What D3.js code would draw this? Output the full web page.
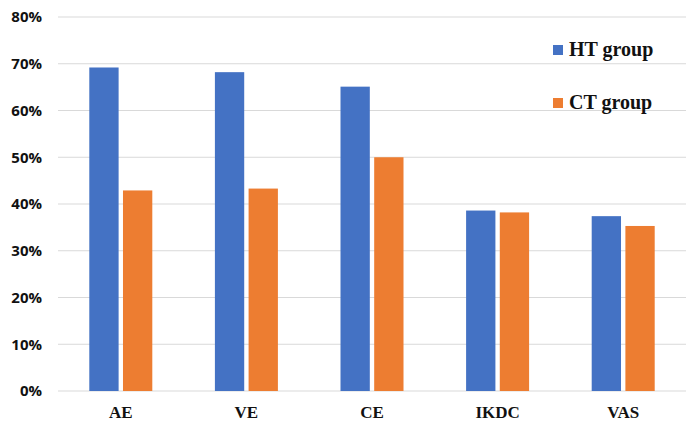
<!DOCTYPE html>
<html><head><meta charset="utf-8">
<script src="https://cdn.jsdelivr.net/npm/d3@7"></script>
<style>body{margin:0;background:#fff}svg{display:block}</style>
</head><body>
<script>
const categories = ["AE","VE","CE","IKDC","VAS"];
const seriesNames = ["HT group","CT group"];
const htValues = [69.2, 68.2, 65.1, 38.6, 37.4];
const ctValues = [42.9, 43.3, 50.0, 38.2, 35.3];
const yTicks = [0,10,20,30,40,50,60,70,80];
const colors = ["#4472C4","#ED7D31"];

const W=691,H=427;
const svg=d3.select("body").append("svg").attr("width",W).attr("height",H);
const x=d3.scaleBand().domain(categories).range([58,686]);
const y=d3.scaleLinear().domain([0,80]).range([391,17]);
const sub=d3.scaleBand().domain(seriesNames).range([0,63]).paddingInner(0.13);

// gridlines
svg.append("g").selectAll("line").data(yTicks).join("line")
  .attr("x1",58).attr("x2",686).attr("y1",d=>y(d)).attr("y2",d=>y(d))
  .attr("stroke","#d9d9d9").attr("stroke-width",1);

// y axis labels
const yAxis=d3.axisLeft(y).tickValues(yTicks).tickFormat(d=>d+"%").tickSize(0).tickPadding(0);
const ga=svg.append("g").attr("transform","translate(42,0)").call(yAxis);
ga.select(".domain").remove();
ga.selectAll("text").attr("font-family","'Open Sans',sans-serif").attr("font-weight","bold")
  .attr("font-size",15).attr("fill","#111");

// bars
const data=categories.map((c,i)=>({c,vals:[{s:seriesNames[0],v:htValues[i]},{s:seriesNames[1],v:ctValues[i]}]}));
const g=svg.append("g").selectAll("g").data(data).join("g")
  .attr("transform",d=>`translate(${x(d.c)+x.bandwidth()/2-31.5},0)`);
g.selectAll("rect").data(d=>d.vals).join("rect")
  .attr("x",d=>sub(d.s)).attr("width",sub.bandwidth())
  .attr("y",d=>y(d.v)).attr("height",d=>y(0)-y(d.v))
  .attr("fill",(d,i)=>colors[i]);

// x labels
const xAxis=d3.axisBottom(x).tickSize(0).tickPadding(0);
const gx=svg.append("g").attr("transform","translate(0,418)").call(xAxis);
gx.select(".domain").remove();
gx.selectAll("text").attr("font-family","'Liberation Serif',serif").attr("font-weight","bold")
  .attr("font-size",17).attr("fill","#111").attr("dy","0");

// legend
const lg=svg.append("g").selectAll("g").data(seriesNames).join("g")
  .attr("transform",(d,i)=>`translate(553,${45+i*53})`);
lg.append("rect").attr("width",10).attr("height",10).attr("fill",(d,i)=>colors[i]);
lg.append("text").attr("x",16).attr("y",11).text(d=>d)
  .attr("font-family","'Liberation Serif',serif").attr("font-weight","bold")
  .attr("font-size",20).attr("fill","#111");
</script>
</body></html>
